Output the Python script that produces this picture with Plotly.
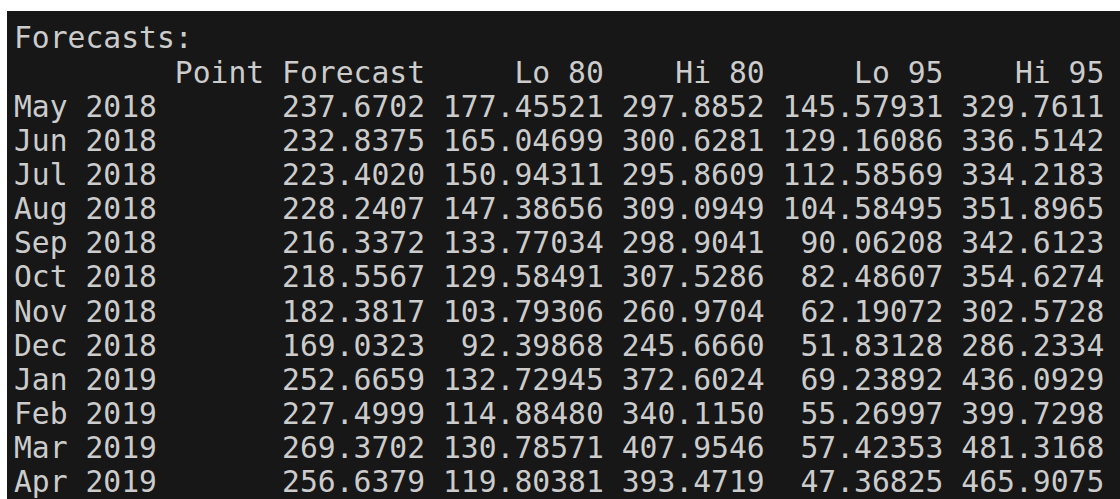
import plotly.graph_objects as go

months = ["May 2018", "Jun 2018", "Jul 2018", "Aug 2018", "Sep 2018", "Oct 2018",
          "Nov 2018", "Dec 2018", "Jan 2019", "Feb 2019", "Mar 2019", "Apr 2019"]
point_fc = [237.6702, 232.8375, 223.4020, 228.2407, 216.3372, 218.5567,
            182.3817, 169.0323, 252.6659, 227.4999, 269.3702, 256.6379]
lo80 = [177.45521, 165.04699, 150.94311, 147.38656, 133.77034, 129.58491,
        103.79306, 92.39868, 132.72945, 114.88480, 130.78571, 119.80381]
hi80 = [297.8852, 300.6281, 295.8609, 309.0949, 298.9041, 307.5286,
        260.9704, 245.6660, 372.6024, 340.1150, 407.9546, 393.4719]
lo95 = [145.57931, 129.16086, 112.58569, 104.58495, 90.06208, 82.48607,
        62.19072, 51.83128, 69.23892, 55.26997, 57.42353, 47.36825]
hi95 = [329.7611, 336.5142, 334.2183, 351.8965, 342.6123, 354.6274,
        302.5728, 286.2334, 436.0929, 399.7298, 481.3168, 465.9075]
headers = ["Point Forecast", "Lo 80", "Hi 80", "Lo 95", "Hi 95"]

# R print widths per column
widths = [14, 9, 8, 9, 8]
lines = ["Forecasts:"]
lines.append(" " * 8 + "".join(" " + h.rjust(w) for h, w in zip(headers, widths)))
for i, m in enumerate(months):
    cells = [f"{point_fc[i]:.4f}", f"{lo80[i]:.5f}", f"{hi80[i]:.4f}",
             f"{lo95[i]:.5f}", f"{hi95[i]:.4f}"]
    lines.append(m + "".join(" " + c.rjust(w) for c, w in zip(cells, widths)))
lines = [l.replace(" ", "\u00a0") for l in lines]

row_h = 34.15
plot_h = 499 - 11
top = 30

fig = go.Figure(go.Scatter(
    x=[7] * len(lines),
    y=list(range(len(lines))),
    mode="text",
    text=lines,
    textposition="middle right",
    textfont=dict(family="DejaVu Sans Mono", size=29.7, color="#cccccc"),
    hoverinfo="skip",
))
fig.update_layout(
    width=1120, height=499,
    margin=dict(l=7, r=0, t=11, b=0),
    paper_bgcolor="white",
    plot_bgcolor="#171717",
    showlegend=False,
    xaxis=dict(range=[0, 1113], visible=False, fixedrange=True),
    yaxis=dict(range=[(plot_h - top) / row_h, -top / row_h], visible=False, fixedrange=True),
)
# drop the default 8px page margin so the figure sits at the window's corner
fig.write_html("out.html", config={"displayModeBar": False},
               post_script="document.body.style.margin='0';document.body.style.overflow='hidden';")
